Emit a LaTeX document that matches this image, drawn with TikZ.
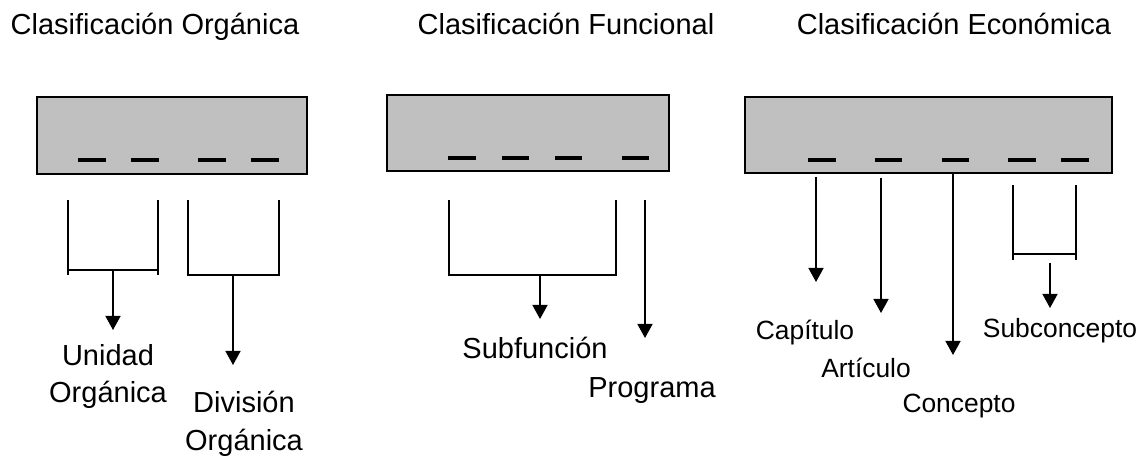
\documentclass[tikz,border=0pt]{standalone}
\usepackage{fontspec}
\setmainfont{Liberation Sans}
\usetikzlibrary{arrows.meta}
\definecolor{boxgray}{RGB}{192,192,192}
\tikzset{
  codebox/.style={draw=black, line width=1pt, fill=boxgray},
  digit/.style={line width=2pt},
  brace/.style={line width=0.75pt},
  down/.style={line width=0.75pt, -{Triangle[width=7.5pt,length=7pt]}},
  title/.style={anchor=base, font=\fontsize{14.5}{17}\selectfont},
  lab/.style={anchor=base, align=center, font=\fontsize{14.5}{18.5}\selectfont},
  elab/.style={anchor=base, font=\fontsize{13.2}{16}\selectfont}
}
\begin{document}
\begin{tikzpicture}[x=0.5pt,y=-0.5pt]
\useasboundingbox (0,0) rectangle (1145,459);
% titulos
\node[title] (torg) at (155,35) {Clasificación Orgánica};
\node[title] (tfun) at (566,35) {Clasificación Funcional};
\node[title] (teco) at (954,35) {Clasificación Económica};
% cajas con los digitos
\draw[codebox] (37,97) rectangle (307,174);
\draw[codebox] (387,95) rectangle (669,171);
\draw[codebox] (745,97) rectangle (1112,173);
\foreach \a/\b in {78/106,131/159,198/226,251/279}
  \draw[digit] (\a,160) -- (\b,160);
\foreach \a/\b in {448/476,502/529,555/582,622/649}
  \draw[digit] (\a,158) -- (\b,158);
\foreach \a/\b in {808/836,875/902,942/969,1008/1036,1061/1089}
  \draw[digit] (\a,160) -- (\b,160);
% organica
\coordinate (uo1) at (68,200);  \coordinate (uo2) at (158,200);
\coordinate (uom) at (113,270); \coordinate (uot) at (113,330);
\draw[brace] (uo1) -- (68,275);
\draw[brace] (uo2) -- (158,275);
\draw[brace] (68,270) -- (158,270);
\draw[down] (uom) -- (uot);
\node[lab] (unidad) at (108,402) {Unidad\\Orgánica};
\coordinate (do1) at (188,200); \coordinate (do2) at (279,200);
\coordinate (dom) at (233,275); \coordinate (dot) at (233,365);
\draw[brace] (do1) -- (188,275) -- (279,275) -- (do2);
\draw[down] (dom) -- (dot);
\node[lab] (division) at (244,450) {División\\Orgánica};
% funcional
\coordinate (sf1) at (449,200); \coordinate (sf2) at (616,200);
\coordinate (sfm) at (540,275); \coordinate (sft) at (540,319);
\draw[brace] (sf1) -- (449,275) -- (616,275) -- (sf2);
\draw[down] (sfm) -- (sft);
\node[lab] (subfun) at (535,358) {Subfunción};
\coordinate (pg1) at (645,200); \coordinate (pgt) at (645,338);
\draw[down] (pg1) -- (pgt);
\node[lab] (programa) at (652,398) {Programa};
% economica
\coordinate (cp1) at (816,177); \coordinate (cpt) at (816,282);
\coordinate (ar1) at (881,178); \coordinate (art) at (881,313);
\coordinate (cn1) at (953,173); \coordinate (cnt) at (953,355);
\draw[down] (cp1) -- (cpt);
\draw[down] (ar1) -- (art);
\draw[down] (cn1) -- (cnt);
\node[elab] (capitulo) at (805,340) {Capítulo};
\node[elab] (articulo) at (866,378) {Artículo};
\node[elab] (concepto) at (959,413) {Concepto};
\coordinate (sc1) at (1013,185); \coordinate (sc2) at (1076,185);
\coordinate (scm) at (1050,263); \coordinate (sct) at (1050,308);
\draw[brace] (sc1) -- (1013,260);
\draw[brace] (sc2) -- (1076,260);
\draw[brace] (1013,254) -- (1076,254);
\draw[down] (scm) -- (sct);
\node[elab] (subcon) at (1060,338) {Subconcepto};
\end{tikzpicture}
\end{document}
